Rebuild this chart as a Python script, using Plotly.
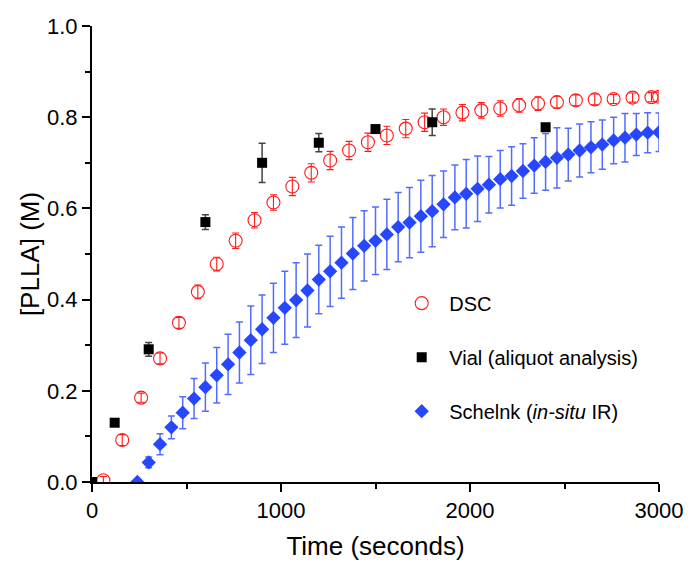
import plotly.graph_objects as go

# ---- data ----
dsc_t = [60, 160, 260, 360, 460, 560, 660, 760, 860, 960, 1060, 1160, 1260, 1360, 1460,
         1560, 1660, 1760, 1860, 1960, 2060, 2160, 2260, 2360, 2460, 2560, 2660, 2760,
         2860, 2960, 3000]
dsc_y = [0.004, 0.092, 0.185, 0.271, 0.349, 0.417, 0.478, 0.529, 0.574, 0.613, 0.648,
         0.678, 0.705, 0.727, 0.745, 0.760, 0.775, 0.789, 0.800, 0.810, 0.815, 0.819,
         0.826, 0.830, 0.833, 0.837, 0.839, 0.840, 0.843, 0.844, 0.845]
dsc_err = [0.008, 0.012, 0.010, 0.012, 0.012, 0.015, 0.015, 0.017, 0.017, 0.017, 0.020,
           0.020, 0.020, 0.020, 0.020, 0.020, 0.020, 0.020, 0.018, 0.018, 0.017, 0.017,
           0.015, 0.015, 0.013, 0.012, 0.012, 0.010, 0.010, 0.010, 0.010]

vial_t = [0, 120, 300, 600, 900, 1200, 1500, 1800, 2400]
vial_y = [0.0, 0.130, 0.291, 0.570, 0.700, 0.744, 0.774, 0.789, 0.778]
vial_err = [0.0, 0.004, 0.015, 0.016, 0.043, 0.020, 0.005, 0.029, 0.004]

sch_t = [240, 300, 360, 420, 480, 540, 600, 660, 720, 780, 840, 900, 960, 1020, 1080,
         1140, 1200, 1260, 1320, 1380, 1440, 1500, 1560, 1620, 1680, 1740, 1800, 1860,
         1920, 1980, 2040, 2100, 2160, 2220, 2280, 2340, 2400, 2460, 2520, 2580, 2640,
         2700, 2760, 2820, 2880, 2940, 3000]
sch_y = [0.000, 0.043, 0.083, 0.120, 0.152, 0.183, 0.208, 0.234, 0.258, 0.284, 0.311,
         0.335, 0.360, 0.382, 0.399, 0.420, 0.444, 0.462, 0.481, 0.501, 0.518, 0.529,
         0.543, 0.559, 0.569, 0.583, 0.594, 0.609, 0.624, 0.632, 0.643, 0.652, 0.664,
         0.671, 0.682, 0.694, 0.702, 0.711, 0.718, 0.727, 0.734, 0.740, 0.749, 0.755,
         0.762, 0.766, 0.767]
sch_err = [0.0, 0.012, 0.023, 0.025, 0.035, 0.044, 0.053, 0.061, 0.066, 0.067, 0.075,
           0.075, 0.076, 0.080, 0.082, 0.080, 0.075, 0.077, 0.078, 0.079, 0.077, 0.074,
           0.077, 0.076, 0.077, 0.079, 0.078, 0.073, 0.071, 0.075, 0.072, 0.062, 0.063,
           0.064, 0.060, 0.061, 0.062, 0.066, 0.058, 0.058, 0.056, 0.054, 0.051, 0.053,
           0.046, 0.044, 0.042]

x_ticks = [0, 1000, 2000, 3000]
y_ticks = [0.0, 0.2, 0.4, 0.6, 0.8, 1.0]

FONT = "Arial, 'Liberation Sans', sans-serif"
RED = "#ff1a1a"
BLUE = "#2647ff"

fig = go.Figure()

fig.add_trace(go.Scatter(
    x=dsc_t, y=dsc_y, mode="markers", name="DSC",
    legendgroup="a", legendrank=1,
    marker=dict(symbol="circle-open", size=13, color=RED, line=dict(width=1.1, color=RED)),
    error_y=dict(type="data", array=dsc_err, color=RED, thickness=1.1, width=3.5),
))

fig.add_trace(go.Scatter(
    x=sch_t, y=sch_y, mode="markers", name="Schelnk (<i>in-situ</i> IR)",
    legendgroup="c", legendrank=3,
    marker=dict(symbol="diamond", size=11, color=BLUE),
    error_y=dict(type="data", array=sch_err, color="rgba(38,71,255,0.8)", thickness=1.5, width=3.5),
))

fig.add_trace(go.Scatter(
    x=vial_t, y=vial_y, mode="markers", name="Vial (aliquot analysis)",
    legendgroup="b", legendrank=2,
    marker=dict(symbol="square", size=10, color="black"),
    error_y=dict(type="data", array=vial_err, color="#444444", thickness=1.5, width=3.5),
))

axis_common = dict(
    showline=True, linecolor="black", linewidth=2,
    ticks="outside", ticklen=8, tickwidth=1.5, tickcolor="black",
    showgrid=False, zeroline=False, mirror=False, automargin=False,
    tickfont=dict(family=FONT, size=22, color="black"),
)

fig.update_layout(
    width=688, height=562,
    margin=dict(l=92, r=29, t=26, b=80, autoexpand=False),
    paper_bgcolor="white", plot_bgcolor="white",
    font=dict(family=FONT, color="black"),
    xaxis=dict(
        range=[0, 3000], tickvals=x_ticks, ticktext=[str(v) for v in x_ticks],
        minor=dict(ticks="outside", ticklen=5, tickwidth=1.5, tickcolor="black", dtick=500),
        title=dict(text="Time (seconds)", font=dict(family=FONT, size=26), standoff=14),
        **axis_common,
    ),
    yaxis=dict(
        range=[0, 1.0], tickvals=y_ticks, ticktext=[f"{v:.1f}" for v in y_ticks],
        minor=dict(ticks="outside", ticklen=5, tickwidth=1.5, tickcolor="black", dtick=0.1),
        title=dict(text="[PLLA] (M)", font=dict(family=FONT, size=26), standoff=0),
        **axis_common,
    ),
    legend=dict(
        x=0.533, y=0.435, xanchor="left", yanchor="top",
        bgcolor="rgba(0,0,0,0)", borderwidth=0,
        font=dict(family=FONT, size=20, color="black"),
        tracegroupgap=25, itemwidth=45,
    ),
    showlegend=True,
)

fig.write_html("out.html")
